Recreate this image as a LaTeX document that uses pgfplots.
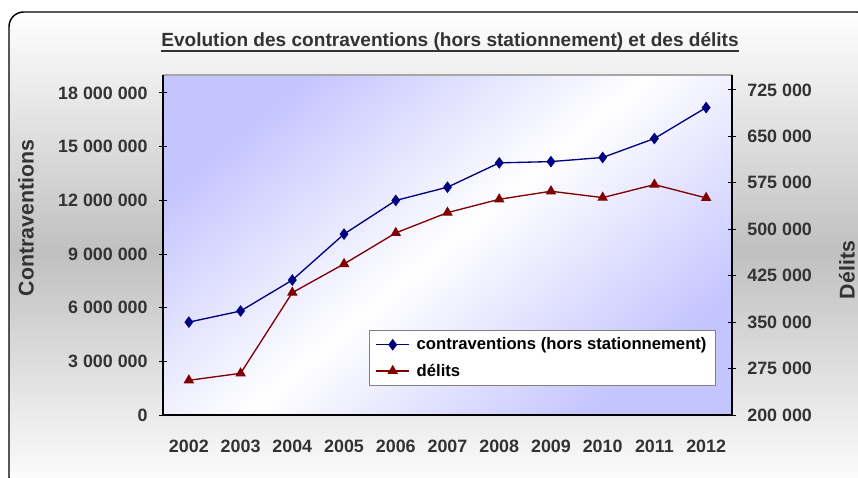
\documentclass[border=0pt]{standalone}
\usepackage{pgfplots}
\pgfplotsset{compat=1.18}
\usepackage{fontspec}
\setmainfont{Liberation Sans}
\definecolor{navy}{HTML}{000080}
\definecolor{dred}{HTML}{800000}
\definecolor{txt}{HTML}{333333}
\definecolor{pblue}{HTML}{C4C4FF}
\definecolor{bgmid}{HTML}{C0C0C0}
\pgfplotsset{
  common/.style={
    scale only axis, width=426.75pt, height=255pt,
    at={(122.25pt,47.25pt)}, anchor=south west,
    xmin=-0.5, xmax=10.5,
    scaled y ticks=false,
    tick align=center, major tick length=6pt, minor tick length=6pt,
    tick style={black, line width=0.6pt},
    tick label style={font=\bfseries\fontsize{13.4}{15}\selectfont, text=txt},
    /pgf/number format/assume math mode=true,
    clip=false,
  },
}
\begin{document}
\begin{tikzpicture}[x=0.75pt,y=0.75pt]
\useasboundingbox (0,0) rectangle (858,478);
\fill[white] (0,0) rectangle (858,478);
\shade[top color=white, bottom color=white, middle color=bgmid, rounded corners=11pt] (9,-14) rectangle (872,466);
\draw[line width=1.1pt, rounded corners=11pt] (9,-14) rectangle (872,466);

\begin{axis}[common,
  ymin=0, ymax=19000000,
  axis background/.style={shade, top color=pblue, bottom color=pblue, middle color=white, shading angle=40},
  axis line style={draw=none},
  tick pos=left,
  xtick={0,...,10},
  xticklabels={2002,2003,2004,2005,2006,2007,2008,2009,2010,2011,2012},
  xtick style={draw=none},
  minor xtick={-0.5,0.5,...,10.5},
  minor tick style={black, line width=0.6pt},
  xticklabel style={yshift=-12.5pt},
  ytick={0,3000000,6000000,9000000,12000000,15000000,18000000},
  yticklabels={0,3 000 000,6 000 000,9 000 000,12 000 000,15 000 000,18 000 000},
  yticklabel style={xshift=-5pt},
]
\draw[gray!70, line width=0.8pt] (rel axis cs:0,1) -- (rel axis cs:1,1);
\draw[black, line width=0.8pt] (rel axis cs:0,1) -- (rel axis cs:0,0) -- (rel axis cs:1,0);
\addplot[navy, line width=1pt, mark=diamond*, mark size=3.6pt, mark options={solid, fill=navy}]
coordinates {(0,5190000) (1,5810000) (2,7540000) (3,10110000) (4,11990000) (5,12730000) (6,14090000) (7,14160000) (8,14390000) (9,15450000) (10,17180000)};
\end{axis}

\begin{axis}[common,
  ymin=200000, ymax=749000,
  axis x line=none,
  axis y line*=right,
  axis line style={black, line width=0.8pt, -},
  ytick={200000,275000,350000,425000,500000,575000,650000,725000},
  yticklabels={200 000,275 000,350 000,425 000,500 000,575 000,650 000,725 000},
  yticklabel style={xshift=5pt},
  legend style={at={(0.362,0.25)}, anchor=north west, draw=gray, line width=0.6pt, fill=white,
    font=\bfseries\fontsize{12.5}{14}\selectfont, text=black, row sep=5pt, inner xsep=4.5pt, inner ysep=3.5pt},
  legend cell align=left,
  legend image code/.code={\draw[mark repeat=2, mark phase=2, #1] plot coordinates {(0pt,0pt) (12.5pt,0pt) (25pt,0pt)}; \path (28pt,0pt);},
]
\addlegendimage{navy, line width=1pt, mark=diamond*, mark size=3.6pt, mark options={solid, fill=navy}}
\addlegendentry{contraventions (hors stationnement)}
\addplot[dred, line width=1pt, mark=triangle*, mark size=3.6pt, mark options={solid, fill=dred}]
coordinates {(0,256000) (1,267300) (2,397600) (3,443900) (4,494000) (5,526800) (6,548300) (7,561300) (8,551000) (9,572000) (10,550500)};
\addlegendentry{délits}
\end{axis}

\node[inner sep=0pt, anchor=base, font=\bfseries\fontsize{14.3}{16}\selectfont, text=txt] (t) at (450,431) {Evolution des contraventions (hors stationnement) et des délits};
\draw[txt, line width=1.5pt] ([yshift=-3pt]t.base west) -- ([yshift=-3pt]t.base east);
\node[rotate=90, font=\bfseries\fontsize{16}{18}\selectfont, text=txt] at (26,260) {Contraventions};
\node[rotate=90, font=\bfseries\fontsize{16}{18}\selectfont, text=txt] at (847,208) {Délits};
\end{tikzpicture}
\end{document}
